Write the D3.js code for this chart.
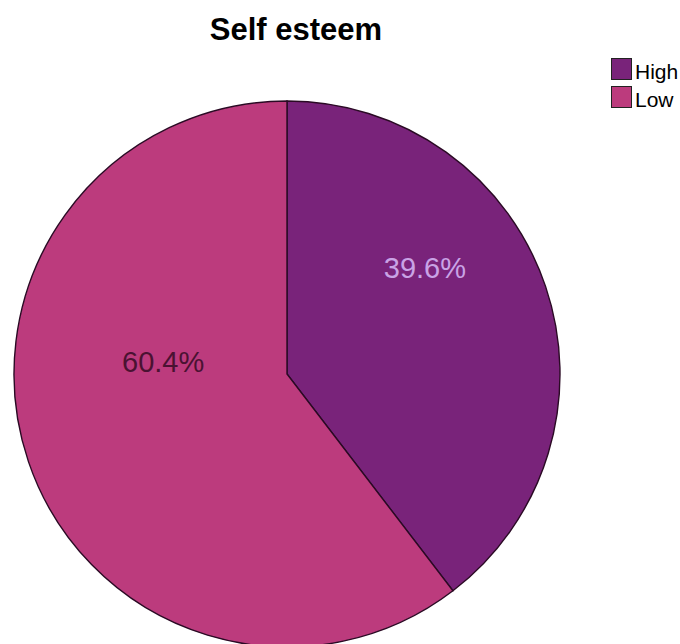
<!DOCTYPE html>
<html><head><meta charset="utf-8">
<script src="https://cdn.jsdelivr.net/npm/d3@7"></script>
<style>body{margin:0;background:#fff}svg{display:block}</style>
</head><body>
<script>
const categories = ["High", "Low"];
const values = [39.6, 60.4];
const labels = ["39.6%", "60.4%"];
const colors = ["#79237A", "#BC3B7D"];
const labelColors = ["#C9A3E6", "#4A1232"];

const W = 680, H = 644;
const svg = d3.select("body").append("svg").attr("width", W).attr("height", H);
const cx = 287, cy = 374, R = 273;
const FONT = "Liberation Sans, Arial, sans-serif";

svg.append("text").attr("x", 296).attr("y", 40).attr("text-anchor", "middle")
  .style("font-family", FONT).style("font-weight", "bold")
  .style("font-size", "31px").attr("fill", "#000").text("Self esteem");

const pie = d3.pie().sort(null).value(d => d)(values);
const arc = d3.arc().innerRadius(0).outerRadius(R);
const g = svg.append("g").attr("transform", `translate(${cx},${cy})`);
g.selectAll("path").data(pie).join("path")
  .attr("d", arc).attr("fill", (d, i) => colors[i])
  .attr("stroke", "#2a0a24").attr("stroke-width", 1.4);

// label placement within each slice (fraction of slice sweep, fraction of radius)
const labelLayout = [{a: 0.368, r: 0.637}, {a: 0.612, r: 0.456}];
g.selectAll("text").data(pie).join("text")
  .attr("transform", (d, i) => {
    const ang = d.startAngle + (d.endAngle - d.startAngle) * labelLayout[i].a;
    const rr = R * labelLayout[i].r;
    return `translate(${rr * Math.sin(ang)},${-rr * Math.cos(ang)})`;
  })
  .attr("text-anchor", "middle").attr("dy", "0.36em")
  .style("font-family", FONT).style("font-size", "29px")
  .attr("fill", (d, i) => labelColors[i]).text((d, i) => labels[i]);

const leg = svg.append("g").attr("transform", "translate(611,58)");
categories.forEach((c, i) => {
  const row = leg.append("g").attr("transform", `translate(0,${i * 28})`);
  row.append("rect").attr("x", 0.5).attr("y", 0.5).attr("width", 20).attr("height", 21)
    .attr("fill", colors[i]).attr("stroke", "#222").attr("stroke-width", 1);
  row.append("text").attr("x", 24).attr("y", 21)
    .style("font-family", FONT).style("font-size", "21px")
    .attr("fill", "#000").text(c);
});
</script>
</body></html>
